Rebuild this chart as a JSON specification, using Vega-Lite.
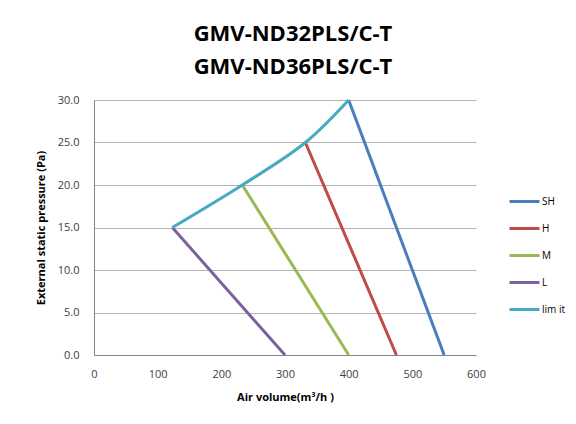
{
  "$schema": "https://vega.github.io/schema/vega-lite/v6.json",
  "width": 382,
  "height": 255,
  "autosize": {"type": "none"},
  "padding": {"left": 94, "top": 100, "right": 100, "bottom": 69},
  "background": "white",
  "title": {
    "text": ["GMV-ND32PLS/C-T", "GMV-ND36PLS/C-T"],
    "font": "Open Sans",
    "fontSize": 22,
    "fontWeight": "bold",
    "color": "#000000",
    "lineHeight": 33,
    "anchor": "middle",
    "frame": "group",
    "dx": 8,
    "offset": 15
  },
  "config": {
    "view": {"stroke": null},
    "font": "Open Sans",
    "axis": {
      "labelFont": "Open Sans",
      "labelFontSize": 11,
      "labelColor": "#404040",
      "labelFlush": false,
      "titleFont": "Open Sans",
      "titleFontSize": 11,
      "titleFontWeight": "bold",
      "titleColor": "#000000",
      "domainColor": "#868686",
      "gridColor": "#b3b3b3",
      "ticks": false
    }
  },
  "data": {
    "values": [
      {"series": "SH", "order": 1, "x": 400, "y": 30},
      {"series": "SH", "order": 2, "x": 550, "y": 0},
      {"series": "H", "order": 1, "x": 332, "y": 25},
      {"series": "H", "order": 2, "x": 475, "y": 0},
      {"series": "M", "order": 1, "x": 233, "y": 20},
      {"series": "M", "order": 2, "x": 400, "y": 0},
      {"series": "L", "order": 1, "x": 123, "y": 15},
      {"series": "L", "order": 2, "x": 300, "y": 0},
      {"series": "lim it", "order": 1, "x": 123, "y": 15},
      {"series": "lim it", "order": 2, "x": 233, "y": 20},
      {"series": "lim it", "order": 3, "x": 332, "y": 25},
      {"series": "lim it", "order": 4, "x": 400, "y": 30}
    ]
  },
  "mark": {"type": "line", "strokeWidth": 3, "interpolate": "catmull-rom"},
  "encoding": {
    "x": {
      "field": "x",
      "type": "quantitative",
      "scale": {"domain": [0, 600], "nice": false},
      "axis": {
        "values": [0, 100, 200, 300, 400, 500, 600],
        "grid": false,
        "title": "Air volume(m³/h )",
        "labelPadding": 13,
        "titlePadding": 12
      }
    },
    "y": {
      "field": "y",
      "type": "quantitative",
      "scale": {"domain": [0, 30], "nice": false},
      "axis": {
        "values": [0, 5, 10, 15, 20, 25, 30],
        "format": ".1f",
        "grid": true,
        "title": "External static pressure (Pa)",
        "labelPadding": 15,
        "titlePadding": 11
      }
    },
    "color": {
      "field": "series",
      "type": "nominal",
      "scale": {
        "domain": ["SH", "H", "M", "L", "lim it"],
        "range": ["#4a7ebb", "#be4b48", "#98b954", "#7d60a0", "#46aac5"]
      },
      "legend": {
        "title": null,
        "orient": "none",
        "legendX": 414,
        "legendY": 85,
        "symbolType": "stroke",
        "symbolSize": 900,
        "symbolStrokeWidth": 3,
        "symbolOffset": 0,
        "labelFont": "Open Sans",
        "labelFontSize": 10,
        "labelColor": "#000000",
        "labelOffset": 1,
        "rowPadding": 4
      }
    },
    "order": {"field": "order", "type": "quantitative"}
  }
}
